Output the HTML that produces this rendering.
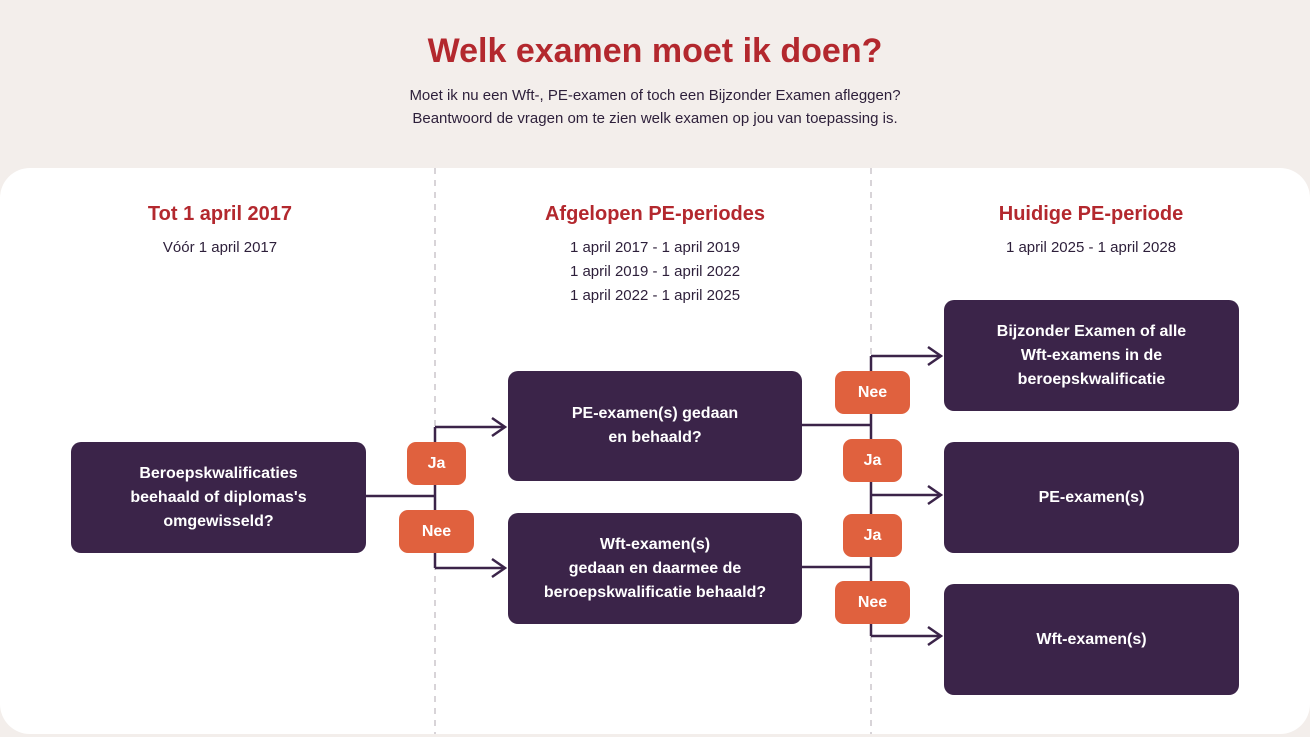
<!DOCTYPE html>
<html><head><meta charset="utf-8"><style>
body{margin:0;width:1310px;height:737px;background:#f3eeeb;font-family:"Liberation Sans",sans-serif;position:relative;overflow:hidden}
.t{position:absolute;left:0;width:1310px;text-align:center}
h1{position:absolute;left:0;top:32px;width:1310px;text-align:center;margin:0;font-size:34px;color:#b3282e;font-weight:bold}
.card{position:absolute;left:0;top:168px;width:1310px;height:566px;background:#fff;border-radius:30px}
.col{position:absolute;text-align:center;color:#2d1f3a;font-size:15px;line-height:24px}
.col b{display:block;color:#b3282e;font-size:20px;margin-bottom:10px}
.box{position:absolute;background:#3b2449;color:#fff;border-radius:10px;display:flex;align-items:center;justify-content:center;text-align:center;font-weight:bold;font-size:16px;line-height:24px}
.bd{position:absolute;background:#e0613e;color:#fff;border-radius:9px;display:flex;align-items:center;justify-content:center;font-weight:bold;font-size:16px}
</style></head><body>
<h1>Welk examen moet ik doen?</h1>
<div class="t" style="top:84px;font-size:15px;line-height:23px;color:#2d1f3a">Moet ik nu een Wft-, PE-examen of toch een Bijzonder Examen afleggen?<br>Beantwoord de vragen om te zien welk examen op jou van toepassing is.</div>
<div class="card"></div>
<svg style="position:absolute;left:0;top:0" width="1310" height="737">
<line x1="435" y1="168" x2="435" y2="734" stroke="#d8d4d8" stroke-width="2" stroke-dasharray="6,6"/>
<line x1="871" y1="168" x2="871" y2="734" stroke="#d8d4d8" stroke-width="2" stroke-dasharray="6,6"/>
<g stroke="#3b2449" stroke-width="2.5" fill="none">
<path d="M366 496H435M435 427V568M435 427H505M435 568H505"/>
<path d="M492 418L505 427L492 436M492 559L505 568L492 577"/>
<path d="M802 425H871M802 567H871M871 356V636M871 356H941M871 495H941M871 636H941"/>
<path d="M928 347L941 356L928 365M928 486L941 495L928 504M928 627L941 636L928 645"/>
</g></svg>
<div class="col" style="left:70px;width:300px;top:202px"><b>Tot 1 april 2017</b>Vóór 1 april 2017</div>
<div class="col" style="left:505px;width:300px;top:202px"><b>Afgelopen PE-periodes</b>1 april 2017 - 1 april 2019<br>1 april 2019 - 1 april 2022<br>1 april 2022 - 1 april 2025</div>
<div class="col" style="left:941px;width:300px;top:202px"><b>Huidige PE-periode</b>1 april 2025 - 1 april 2028</div>
<div class="box" style="left:71px;top:442px;width:295px;height:111px">Beroepskwalificaties<br>beehaald of diplomas's<br>omgewisseld?</div>
<div class="box" style="left:508px;top:371px;width:294px;height:110px">PE-examen(s) gedaan<br>en behaald?</div>
<div class="box" style="left:508px;top:513px;width:294px;height:111px">Wft-examen(s)<br>gedaan en daarmee de<br>beroepskwalificatie behaald?</div>
<div class="box" style="left:944px;top:300px;width:295px;height:111px">Bijzonder Examen of alle<br>Wft-examens in de<br>beroepskwalificatie</div>
<div class="box" style="left:944px;top:442px;width:295px;height:111px">PE-examen(s)</div>
<div class="box" style="left:944px;top:584px;width:295px;height:111px">Wft-examen(s)</div>
<div class="bd" style="left:407px;top:442px;width:59px;height:43px">Ja</div>
<div class="bd" style="left:399px;top:510px;width:75px;height:43px">Nee</div>
<div class="bd" style="left:835px;top:371px;width:75px;height:43px">Nee</div>
<div class="bd" style="left:843px;top:439px;width:59px;height:43px">Ja</div>
<div class="bd" style="left:843px;top:514px;width:59px;height:43px">Ja</div>
<div class="bd" style="left:835px;top:581px;width:75px;height:43px">Nee</div>
</body></html>
